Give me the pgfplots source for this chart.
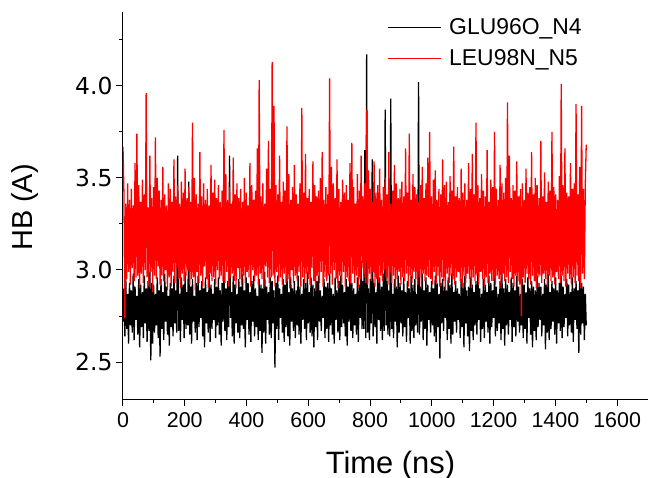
\documentclass[border=0pt]{standalone}
\usepackage{pgfplots}
\pgfplotsset{compat=1.18}
\usepackage{fontspec}
\setmainfont{Liberation Sans}
\newfontfamily\ytfont{DejaVu Sans}
\pgfplotsset{
  legend image code/.code={\draw[#1, line width=1bp] (0bp,1.5bp) -- (53bp,1.5bp);}
}
\begin{document}
\begin{tikzpicture}
\begin{axis}[
  scale only axis, width=525bp, height=387bp,
  xmin=0, xmax=1700, ymin=2.3, ymax=4.4,
  axis x line=bottom, axis y line=left,
  axis line style={-, line width=1bp},
  tick align=outside, major tick length=7bp, minor tick length=4bp,
  every tick/.style={line width=1bp, black},
  xtick={0,200,...,1600}, minor xtick={100,300,...,1500},
  ytick={2.5,3,3.5,4}, minor ytick={2.75,3.25,3.75,4.25},
  /pgf/number format/1000 sep={},
  /pgf/number format/assume math mode=true,
  xticklabel style={font=\fontsize{21.5}{24}\selectfont, yshift=-3bp},
  yticklabel style={font=\ytfont\fontsize{23.5}{26}\selectfont, /pgf/number format/.cd, fixed, fixed zerofill, precision=1},
  xlabel={Time (ns)}, ylabel={HB (A)},
  xlabel style={font=\fontsize{31}{34}\selectfont, at={([xshift=5bp,yshift=-74bp]axis description cs:0.5,0)}, anchor=base},
  ylabel style={font=\fontsize{29}{32}\selectfont, at={([xshift=-90bp,yshift=-2bp]axis description cs:0,0.5)}, anchor=base},
  legend style={at={([yshift=-6bp]rel axis cs:0.5029,1.0)}, anchor=north west, draw=none, fill=none,
    font=\fontsize{23}{26}\selectfont, row sep=9.5bp, column sep=8bp, inner sep=0pt,
    nodes={inner sep=0bp, text height=16.5bp, text depth=5bp}},
  legend cell align=left,
]
\coordinate (bl) at (rel axis cs:0,0);
\coordinate (tr) at (rel axis cs:1,1);
\addplot[black, line width=1.3bp] table[row sep=\\, header=false, x expr=\coordindex*3, y index=0] {
2.72\\ 2.90\\ 2.64\\ 2.96\\ 2.68\\ 2.87\\ 2.60\\ 2.93\\ 2.70\\ 2.89\\
2.66\\ 2.98\\ 2.62\\ 2.91\\ 2.73\\ 2.86\\ 2.65\\ 2.95\\ 2.58\\ 2.92\\
2.69\\ 2.88\\ 2.63\\ 2.97\\ 2.71\\ 2.90\\ 2.61\\ 2.94\\ 2.67\\ 2.99\\
2.51\\ 2.93\\ 2.60\\ 2.92\\ 2.66\\ 2.87\\ 2.70\\ 2.96\\ 2.63\\ 2.89\\
2.53\\ 2.95\\ 2.68\\ 2.88\\ 2.62\\ 2.98\\ 2.72\\ 2.91\\ 2.65\\ 2.86\\
2.59\\ 2.93\\ 2.69\\ 2.90\\ 2.64\\ 2.97\\ 2.71\\ 2.89\\ 2.66\\ 3.62\\
2.67\\ 2.87\\ 2.61\\ 2.96\\ 2.73\\ 2.92\\ 2.63\\ 2.99\\ 2.68\\ 2.88\\
2.70\\ 3.48\\ 2.65\\ 2.91\\ 2.60\\ 2.95\\ 2.72\\ 2.86\\ 2.66\\ 2.93\\
2.62\\ 2.97\\ 2.69\\ 2.89\\ 2.74\\ 2.94\\ 2.64\\ 2.90\\ 2.58\\ 2.96\\
2.71\\ 2.88\\ 2.66\\ 2.98\\ 2.61\\ 2.92\\ 2.68\\ 2.87\\ 2.73\\ 2.95\\
2.63\\ 2.91\\ 2.70\\ 2.96\\ 2.65\\ 2.89\\ 2.59\\ 2.93\\ 2.72\\ 2.99\\
2.67\\ 2.90\\ 2.62\\ 2.94\\ 2.69\\ 3.62\\ 2.74\\ 2.88\\ 2.64\\ 2.97\\
2.60\\ 2.92\\ 2.71\\ 2.87\\ 2.66\\ 2.95\\ 2.63\\ 2.91\\ 2.70\\ 2.98\\
2.68\\ 2.89\\ 2.58\\ 2.96\\ 2.73\\ 2.93\\ 2.65\\ 2.88\\ 2.61\\ 2.94\\
2.72\\ 2.97\\ 2.64\\ 2.90\\ 2.69\\ 2.86\\ 2.62\\ 2.95\\ 2.67\\ 2.92\\
2.55\\ 2.90\\ 2.66\\ 2.99\\ 2.60\\ 2.91\\ 2.73\\ 2.88\\ 2.65\\ 2.96\\
2.63\\ 2.94\\ 2.71\\ 2.89\\ 2.47\\ 2.93\\ 2.68\\ 2.97\\ 2.62\\ 2.90\\
2.74\\ 2.87\\ 2.66\\ 2.95\\ 2.61\\ 2.92\\ 2.69\\ 2.98\\ 2.64\\ 2.88\\
2.59\\ 2.96\\ 2.72\\ 2.90\\ 2.67\\ 2.94\\ 2.63\\ 2.89\\ 2.70\\ 2.97\\
2.65\\ 2.91\\ 2.60\\ 2.87\\ 2.73\\ 2.95\\ 2.68\\ 2.93\\ 2.62\\ 2.99\\
2.71\\ 2.88\\ 2.66\\ 2.96\\ 2.64\\ 2.92\\ 2.58\\ 2.90\\ 2.69\\ 2.94\\
2.62\\ 2.97\\ 2.72\\ 2.89\\ 2.67\\ 2.86\\ 2.74\\ 2.95\\ 2.63\\ 2.91\\
2.68\\ 2.93\\ 2.61\\ 2.98\\ 2.70\\ 2.90\\ 2.65\\ 2.87\\ 2.60\\ 2.96\\
2.73\\ 2.89\\ 2.66\\ 2.94\\ 2.62\\ 2.97\\ 2.69\\ 2.92\\ 2.71\\ 2.88\\
2.64\\ 2.95\\ 2.59\\ 2.91\\ 2.72\\ 2.99\\ 2.67\\ 2.93\\ 2.63\\ 2.90\\
2.70\\ 2.87\\ 2.65\\ 2.96\\ 2.61\\ 2.92\\ 2.74\\ 3.05\\ 2.68\\ 2.94\\
2.68\\ 3.65\\ 2.63\\ 4.17\\ 2.66\\ 2.90\\ 2.62\\ 2.95\\ 2.71\\ 3.60\\
2.64\\ 2.93\\ 2.69\\ 2.88\\ 2.60\\ 3.10\\ 2.73\\ 2.96\\ 2.67\\ 2.91\\
2.62\\ 2.98\\ 2.67\\ 3.87\\ 2.70\\ 2.94\\ 2.65\\ 2.89\\ 2.64\\ 3.93\\
2.68\\ 2.87\\ 2.63\\ 2.95\\ 2.72\\ 2.91\\ 2.58\\ 2.97\\ 2.66\\ 2.93\\
2.71\\ 2.89\\ 2.64\\ 2.96\\ 2.69\\ 2.88\\ 2.61\\ 2.94\\ 2.74\\ 2.90\\
2.60\\ 2.97\\ 2.67\\ 2.92\\ 2.63\\ 2.95\\ 2.70\\ 2.87\\ 2.66\\ 4.02\\
2.65\\ 2.91\\ 2.72\\ 2.98\\ 2.62\\ 2.89\\ 2.68\\ 2.96\\ 2.59\\ 2.92\\
2.73\\ 2.88\\ 2.66\\ 2.94\\ 2.70\\ 2.90\\ 2.64\\ 2.97\\ 2.61\\ 2.93\\
2.69\\ 2.87\\ 2.52\\ 2.93\\ 2.71\\ 2.95\\ 2.67\\ 2.91\\ 2.74\\ 2.89\\
2.62\\ 2.96\\ 2.68\\ 2.92\\ 2.60\\ 2.98\\ 2.65\\ 2.88\\ 2.72\\ 2.94\\
2.66\\ 2.90\\ 2.73\\ 2.87\\ 2.63\\ 2.95\\ 2.69\\ 2.93\\ 2.58\\ 2.97\\
2.71\\ 2.89\\ 2.64\\ 2.91\\ 2.56\\ 2.96\\ 2.67\\ 2.92\\ 2.62\\ 2.88\\
2.70\\ 2.94\\ 2.65\\ 2.99\\ 2.73\\ 2.90\\ 2.61\\ 2.87\\ 2.68\\ 2.95\\
2.63\\ 2.92\\ 2.72\\ 2.88\\ 2.66\\ 2.97\\ 2.60\\ 2.93\\ 2.69\\ 2.89\\
2.74\\ 2.96\\ 2.64\\ 2.91\\ 2.67\\ 2.87\\ 2.71\\ 2.94\\ 2.62\\ 2.98\\
2.68\\ 2.90\\ 2.59\\ 2.95\\ 2.70\\ 2.92\\ 2.65\\ 2.88\\ 2.73\\ 2.96\\
2.61\\ 2.93\\ 2.69\\ 2.89\\ 2.64\\ 2.97\\ 2.72\\ 2.91\\ 2.66\\ 2.87\\
2.70\\ 2.95\\ 2.63\\ 2.92\\ 2.68\\ 2.88\\ 2.60\\ 2.96\\ 2.74\\ 2.90\\
2.65\\ 2.94\\ 2.58\\ 2.91\\ 2.67\\ 2.89\\ 2.62\\ 2.97\\ 2.69\\ 2.93\\
2.73\\ 2.91\\ 2.64\\ 2.87\\ 2.70\\ 2.95\\ 2.57\\ 2.92\\ 2.66\\ 2.98\\
2.62\\ 2.88\\ 2.68\\ 2.94\\ 2.72\\ 2.90\\ 2.65\\ 2.96\\ 2.60\\ 2.89\\
2.71\\ 2.93\\ 2.67\\ 2.97\\ 2.63\\ 2.91\\ 2.69\\ 2.87\\ 2.74\\ 2.95\\
2.64\\ 2.92\\ 2.70\\ 2.88\\ 2.66\\ 2.96\\ 2.61\\ 2.90\\ 2.73\\ 2.94\\
2.68\\ 2.89\\ 2.55\\ 2.97\\ 2.65\\ 2.93\\ 2.71\\ 2.91\\ 2.62\\ 2.87\\
2.70\\
};
\addlegendentry{GLU96O\_N4}
\addplot[red, line width=1.3bp] table[row sep=\\, header=false, x expr=\coordindex*3, y index=0] {
3.67\\ 3.42\\ 2.74\\ 3.36\\ 2.95\\ 3.47\\ 2.99\\ 3.38\\ 2.92\\ 3.44\\
3.01\\ 3.35\\ 2.94\\ 3.58\\ 2.96\\ 3.74\\ 2.97\\ 3.46\\ 2.90\\ 3.37\\
2.98\\ 3.49\\ 2.93\\ 3.41\\ 3.00\\ 3.96\\ 2.96\\ 3.34\\ 2.91\\ 3.62\\
2.99\\ 3.39\\ 2.88\\ 3.45\\ 2.97\\ 3.72\\ 2.95\\ 3.50\\ 3.02\\ 3.43\\
2.92\\ 3.38\\ 2.97\\ 3.56\\ 2.94\\ 3.41\\ 3.00\\ 3.35\\ 2.89\\ 3.47\\
2.96\\ 3.44\\ 2.91\\ 3.37\\ 2.99\\ 3.60\\ 2.93\\ 3.40\\ 3.01\\ 3.46\\
2.95\\ 3.36\\ 2.90\\ 3.48\\ 2.98\\ 3.42\\ 2.94\\ 3.55\\ 2.97\\ 3.39\\
3.00\\ 3.45\\ 2.92\\ 3.37\\ 2.95\\ 3.80\\ 2.96\\ 3.50\\ 2.89\\ 3.41\\
2.99\\ 3.36\\ 2.93\\ 3.64\\ 2.97\\ 3.40\\ 2.91\\ 3.47\\ 3.02\\ 3.38\\
2.95\\ 3.44\\ 2.90\\ 3.35\\ 2.98\\ 3.57\\ 2.94\\ 3.42\\ 2.96\\ 3.49\\
2.92\\ 3.39\\ 3.00\\ 3.46\\ 2.95\\ 3.37\\ 2.97\\ 3.43\\ 2.94\\ 3.76\\
2.93\\ 3.52\\ 2.99\\ 3.38\\ 2.91\\ 3.45\\ 2.96\\ 3.36\\ 2.98\\ 3.61\\
2.94\\ 3.41\\ 2.90\\ 3.47\\ 3.01\\ 3.39\\ 2.95\\ 3.44\\ 2.92\\ 3.37\\
2.97\\ 3.50\\ 2.93\\ 3.42\\ 2.99\\ 3.35\\ 2.96\\ 3.58\\ 2.91\\ 3.46\\
3.00\\ 3.38\\ 2.94\\ 3.43\\ 2.97\\ 3.66\\ 2.92\\ 4.03\\ 2.98\\ 3.40\\
2.95\\ 3.47\\ 2.90\\ 3.36\\ 3.02\\ 3.55\\ 2.96\\ 3.70\\ 2.93\\ 3.44\\
2.96\\ 4.13\\ 2.97\\ 3.89\\ 2.91\\ 3.46\\ 2.99\\ 3.41\\ 2.94\\ 3.62\\
2.96\\ 3.37\\ 2.92\\ 3.48\\ 2.98\\ 3.43\\ 2.93\\ 3.78\\ 2.95\\ 3.52\\
2.90\\ 3.38\\ 3.00\\ 3.45\\ 2.93\\ 3.57\\ 2.97\\ 3.41\\ 2.94\\ 3.36\\
2.99\\ 3.47\\ 2.91\\ 3.88\\ 2.96\\ 3.42\\ 2.93\\ 3.63\\ 2.98\\ 3.39\\
2.95\\ 3.44\\ 2.92\\ 3.37\\ 3.01\\ 3.59\\ 2.94\\ 3.46\\ 2.89\\ 3.40\\
2.97\\ 3.43\\ 2.93\\ 3.50\\ 2.99\\ 3.64\\ 2.91\\ 3.38\\ 2.96\\ 3.45\\
2.94\\ 3.41\\ 2.97\\ 4.04\\ 2.98\\ 3.56\\ 2.92\\ 3.47\\ 3.00\\ 3.39\\
2.95\\ 3.60\\ 2.90\\ 3.44\\ 2.97\\ 3.37\\ 2.93\\ 3.49\\ 2.99\\ 3.42\\
2.91\\ 3.46\\ 2.96\\ 3.38\\ 2.94\\ 3.58\\ 2.92\\ 3.69\\ 2.98\\ 3.45\\
2.93\\ 3.36\\ 2.97\\ 3.52\\ 2.90\\ 3.43\\ 2.95\\ 3.62\\ 3.01\\ 3.40\\
2.96\\ 3.47\\ 2.93\\ 3.87\\ 2.92\\ 3.54\\ 2.98\\ 3.44\\ 2.94\\ 3.37\\
2.99\\ 3.59\\ 2.91\\ 3.42\\ 2.95\\ 3.46\\ 2.93\\ 3.55\\ 2.97\\ 3.38\\
2.94\\ 3.45\\ 3.00\\ 3.50\\ 2.96\\ 3.41\\ 2.92\\ 3.64\\ 2.98\\ 3.36\\
2.93\\ 3.43\\ 2.97\\ 3.57\\ 2.90\\ 3.47\\ 2.95\\ 3.39\\ 2.99\\ 3.44\\
2.92\\ 3.48\\ 2.96\\ 3.40\\ 2.94\\ 3.66\\ 2.98\\ 3.42\\ 2.91\\ 3.74\\
2.97\\ 3.38\\ 2.93\\ 3.52\\ 2.99\\ 3.45\\ 2.95\\ 3.41\\ 2.92\\ 3.37\\
2.96\\ 3.46\\ 2.90\\ 3.56\\ 2.98\\ 3.39\\ 2.94\\ 3.47\\ 2.97\\ 3.61\\
2.96\\ 3.75\\ 2.95\\ 3.40\\ 2.92\\ 3.49\\ 2.99\\ 3.54\\ 2.93\\ 3.38\\
2.97\\ 3.44\\ 2.91\\ 3.41\\ 2.96\\ 3.60\\ 2.94\\ 3.46\\ 2.89\\ 3.48\\
2.98\\ 3.37\\ 2.93\\ 3.51\\ 2.97\\ 3.43\\ 2.95\\ 3.67\\ 2.92\\ 3.40\\
2.96\\ 3.45\\ 2.99\\ 3.39\\ 2.94\\ 3.55\\ 2.91\\ 3.42\\ 2.97\\ 3.47\\
2.93\\ 3.38\\ 2.98\\ 3.58\\ 2.95\\ 3.44\\ 2.90\\ 3.63\\ 2.96\\ 3.41\\
2.94\\ 3.80\\ 2.97\\ 3.46\\ 2.92\\ 3.39\\ 2.99\\ 3.52\\ 2.95\\ 3.43\\
2.91\\ 3.40\\ 2.96\\ 3.65\\ 2.93\\ 3.37\\ 2.98\\ 3.49\\ 2.94\\ 3.45\\
2.94\\ 3.75\\ 2.92\\ 3.44\\ 2.97\\ 3.38\\ 2.95\\ 3.57\\ 2.90\\ 3.47\\
2.98\\ 3.42\\ 2.94\\ 3.50\\ 2.96\\ 3.91\\ 2.93\\ 3.62\\ 2.99\\ 3.39\\
2.95\\ 3.46\\ 2.91\\ 3.43\\ 2.97\\ 3.59\\ 2.94\\ 3.40\\ 2.92\\ 3.44\\
2.75\\ 3.47\\ 2.96\\ 3.38\\ 2.93\\ 3.55\\ 2.98\\ 3.42\\ 2.95\\ 3.45\\
2.92\\ 3.64\\ 2.97\\ 3.41\\ 2.94\\ 3.50\\ 2.90\\ 3.46\\ 2.96\\ 3.39\\
2.97\\ 3.70\\ 2.93\\ 3.40\\ 2.98\\ 3.53\\ 2.95\\ 3.37\\ 2.91\\ 3.48\\
2.97\\ 3.43\\ 2.94\\ 3.75\\ 2.96\\ 3.45\\ 2.92\\ 3.41\\ 2.99\\ 3.38\\
2.95\\ 3.51\\ 2.93\\ 4.01\\ 2.97\\ 3.46\\ 2.94\\ 3.66\\ 2.91\\ 3.42\\
2.98\\ 3.40\\ 2.95\\ 3.58\\ 2.92\\ 3.44\\ 2.96\\ 3.47\\ 2.93\\ 3.90\\
2.97\\ 3.41\\ 2.94\\ 3.56\\ 2.90\\ 3.89\\ 2.98\\ 3.44\\ 2.95\\ 3.47\\
3.68\\
};
\addlegendentry{LEU98N\_N5}
\end{axis}
\pgfresetboundingbox
\path ([xshift=-123bp, yshift=-79bp]bl) rectangle ([yshift=12bp]tr);
\end{tikzpicture}
\end{document}
